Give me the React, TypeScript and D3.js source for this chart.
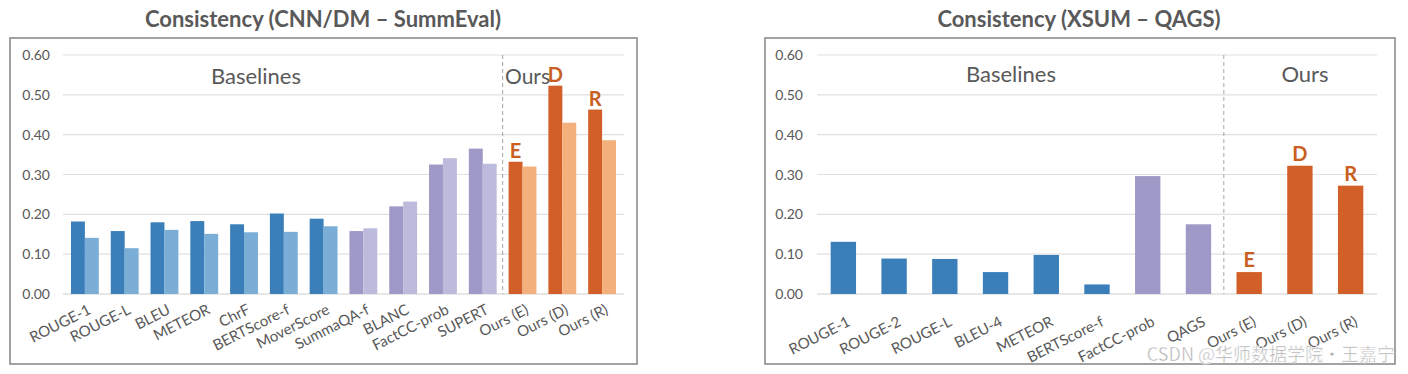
import React from 'react';
import * as d3 from 'd3';

// left chart: CNN/DM - SummEval (two bars per metric)
const leftCategories = [
  'ROUGE-1', 'ROUGE-L', 'BLEU', 'METEOR', 'ChrF', 'BERTScore-f', 'MoverScore',
  'SummaQA-f', 'BLANC', 'FactCC-prob', 'SUPERT', 'Ours (E)', 'Ours (D)', 'Ours (R)',
];
const leftDark = [0.182, 0.158, 0.180, 0.183, 0.175, 0.202, 0.189, 0.158, 0.220, 0.325, 0.365, 0.332, 0.523, 0.463];
const leftLight = [0.141, 0.115, 0.161, 0.151, 0.155, 0.156, 0.170, 0.165, 0.232, 0.341, 0.327, 0.320, 0.430, 0.386];
const leftGroups = ['blue', 'blue', 'blue', 'blue', 'blue', 'blue', 'blue', 'purple', 'purple', 'purple', 'purple', 'orange', 'orange', 'orange'];

// right chart: XSUM - QAGS (one bar per metric)
const rightCategories = [
  'ROUGE-1', 'ROUGE-2', 'ROUGE-L', 'BLEU-4', 'METEOR', 'BERTScore-f',
  'FactCC-prob', 'QAGS', 'Ours (E)', 'Ours (D)', 'Ours (R)',
];
const rightValues = [0.131, 0.089, 0.088, 0.055, 0.098, 0.024, 0.296, 0.175, 0.055, 0.322, 0.272];
const rightGroups = ['blue', 'blue', 'blue', 'blue', 'blue', 'blue', 'purple', 'purple', 'orange', 'orange', 'orange'];

const yTicks = [0, 0.1, 0.2, 0.3, 0.4, 0.5, 0.6];
const oursLetters = ['E', 'D', 'R'];

const darkColor: Record<string, string> = { blue: '#3a7fba', purple: '#9e99c6', orange: '#d25f27' };
const lightColor: Record<string, string> = { blue: '#7aaed6', purple: '#bdbbdb', orange: '#f3b07c' };

const textColor = '#595959';
const font = 'Lato, "Open Sans", sans-serif';

const y = d3.scaleLinear().domain([0, 0.6]).range([294, 55]);

function Frame({ x0, x1, title, titleX }: { x0: number; x1: number; title: string; titleX: number }) {
  return (
    <g>
      <text x={titleX} y={27} textAnchor="middle" fontFamily={font} fontWeight="bold" fontSize={22} fill={textColor}>{title}</text>
      <rect x={x0} y={38} width={x1 - x0} height={326} fill="white" stroke="#8c8c8c" strokeWidth={1.6} />
    </g>
  );
}

function YAxis({ labelX, gx0, gx1 }: { labelX: number; gx0: number; gx1: number }) {
  return (
    <g>
      {yTicks.map(t => (
        <g key={t}>
          <line x1={gx0} x2={gx1} y1={y(t)} y2={y(t)} stroke={t === 0 ? '#d0d0d0' : '#e0e0e0'} strokeWidth={1.2} />
          <text x={labelX} y={y(t) + 5} textAnchor="end" fontFamily={font} fontSize={14} fill={textColor}>{t.toFixed(2)}</text>
        </g>
      ))}
    </g>
  );
}

function LeftChart() {
  const x = d3.scaleBand<string>().domain(leftCategories).range([65, 622]).paddingInner(0.3).paddingOuter(0.15);
  const inner = d3.scaleBand<string>().domain(['dark', 'light']).range([0, x.bandwidth()]);
  const divider = (x('SUPERT')! + x.bandwidth() + x('Ours (E)')!) / 2;
  return (
    <g>
      <Frame x0={10} x1={637} title="Consistency (CNN/DM – SummEval)" titleX={323} />
      <YAxis labelX={50} gx0={63} gx1={624} />
      <line x1={divider} x2={divider} y1={55} y2={294} stroke="#a6a6a6" strokeDasharray="4,3" />
      {leftCategories.map((c, i) => (
        <g key={c}>
          <rect x={x(c)! + inner('dark')!} y={y(leftDark[i])} width={inner.bandwidth()} height={y(0) - y(leftDark[i])} fill={darkColor[leftGroups[i]]} />
          <rect x={x(c)! + inner('light')!} y={y(leftLight[i])} width={inner.bandwidth()} height={y(0) - y(leftLight[i])} fill={lightColor[leftGroups[i]]} />
          <text transform={`translate(${x(c)! + x.bandwidth() / 2 + 7},${313}) rotate(-27)`} textAnchor="end" fontFamily={font} fontSize={15} fill={textColor}>{c}</text>
        </g>
      ))}
      <text x={256} y={84} textAnchor="middle" fontFamily={font} fontSize={22} fill={textColor}>Baselines</text>
      <text x={505} y={84} fontFamily={font} fontSize={21} fill={textColor}>Ours</text>
      {leftCategories.slice(11).map((c, i) => (
        <text key={c} x={x(c)! + inner('dark')! + inner.bandwidth() / 2} y={y(leftDark[11 + i]) - 4} textAnchor="middle"
          fontFamily={font} fontWeight="bold" fontSize={20} fill="#c9601f">{oursLetters[i]}</text>
      ))}
    </g>
  );
}

function RightChart() {
  const x = d3.scaleBand<string>().domain(rightCategories).range([818, 1376]).paddingInner(0.5).paddingOuter(0.25);
  const divider = (x('QAGS')! + x.bandwidth() + x('Ours (E)')!) / 2;
  return (
    <g>
      <Frame x0={765} x1={1395} title="Consistency (XSUM – QAGS)" titleX={1079} />
      <YAxis labelX={803} gx0={817} gx1={1377} />
      <line x1={divider} x2={divider} y1={55} y2={294} stroke="#a6a6a6" strokeDasharray="4,3" />
      {rightCategories.map((c, i) => (
        <g key={c}>
          <rect x={x(c)!} y={y(rightValues[i])} width={x.bandwidth()} height={y(0) - y(rightValues[i])} fill={darkColor[rightGroups[i]]} />
          <text transform={`translate(${x(c)! + x.bandwidth() / 2 + 8},${325}) rotate(-27)`} textAnchor="end" fontFamily={font} fontSize={15} fill={textColor}>{c}</text>
        </g>
      ))}
      <text x={1011} y={82} textAnchor="middle" fontFamily={font} fontSize={22} fill={textColor}>Baselines</text>
      <text x={1305} y={82} textAnchor="middle" fontFamily={font} fontSize={22} fill={textColor}>Ours</text>
      {rightCategories.slice(8).map((c, i) => (
        <text key={c} x={x(c)! + x.bandwidth() / 2} y={y(rightValues[8 + i]) - 5} textAnchor="middle"
          fontFamily={font} fontWeight="bold" fontSize={20} fill="#c9601f">{oursLetters[i]}</text>
      ))}
      <text x={1395} y={361} textAnchor="end" fontFamily='"Noto Sans CJK SC", "Noto Sans", sans-serif' fontSize={18}
        fill="#adadad" stroke="white" strokeWidth={0.5}>CSDN @华师数据学院·王嘉宁</text>
    </g>
  );
}

export default function App() {
  return (
    <svg width={1408} height={374} style={{ position: 'absolute', left: 0, top: 0, background: 'white' }}>
      <LeftChart />
      <RightChart />
    </svg>
  );
}
